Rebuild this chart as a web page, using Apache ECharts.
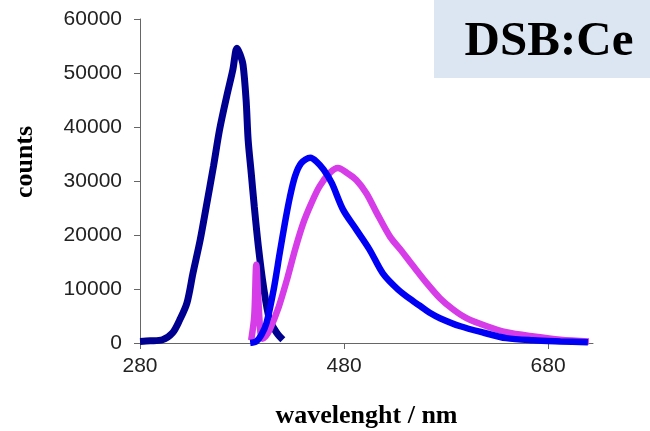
<!DOCTYPE html>
<html>
<head>
<meta charset="utf-8">
<script src="https://cdn.jsdelivr.net/npm/echarts@6/dist/echarts.min.js"></script>
<style>
html,body{margin:0;padding:0;background:#fff;}
#chart{width:650px;height:431px;}
</style>
</head>
<body>
<div id="chart"></div>
<script>
// excitation spectrum (navy)
const excWl = [280, 290, 302, 312, 319, 326, 332, 339, 345, 352, 358, 365, 371, 375, 378, 381, 384, 386, 389, 392, 396, 401, 407, 414, 420];
const excCounts = [300, 400, 600, 1900, 4300, 7400, 13000, 19100, 25300, 32700, 39500, 45700, 50600, 54600, 53500, 51500, 45000, 37600, 31500, 25300, 17900, 10500, 4300, 1900, 600];
// emission spectrum (magenta)
const emMWl = [389, 392, 394, 396, 398, 400, 403, 407, 416, 424, 432, 440, 448, 456, 466, 474, 483, 492, 502, 512, 525, 537, 548, 561, 574, 587, 600, 620, 639, 666, 692, 720];
const emMCounts = [500, 5000, 14500, 8000, 2000, 800, 1200, 2400, 6700, 11700, 17300, 22200, 25900, 29000, 31500, 32400, 31500, 30200, 27700, 24100, 19700, 16900, 14200, 11100, 8300, 6200, 4600, 3100, 2000, 1200, 600, 300];
// emission spectrum (blue)
const emBWl = [388, 394, 399, 404, 411, 417, 422, 427, 432, 438, 447, 453, 460, 468, 479, 492, 505, 518, 533, 548, 555, 564, 574, 594, 617, 639, 665, 692, 719];
const emBCounts = [0, 300, 1500, 3700, 9900, 16700, 22200, 27100, 30900, 33300, 34300, 33600, 32100, 29600, 24700, 21000, 17300, 12900, 9900, 7700, 6800, 5600, 4600, 3100, 1900, 900, 500, 300, 150];
const xTicks = [280, 480, 680];
const yTicks = [0, 10000, 20000, 30000, 40000, 50000, 60000];

function pairs(xs, ys) { return xs.map((x, i) => [x, ys[i]]); }

const chart = echarts.init(document.getElementById('chart'), null, {renderer: 'canvas'});
const axisColor = '#666';
chart.setOption({
  animation: false,
  backgroundColor: '#fff',
  grid: {left: 140, right: 57, top: 19, bottom: 88, containLabel: false, outerBoundsMode: 'none'},
  xAxis: {
    type: 'value', min: 280, max: 724,
    axisLine: {show: true, lineStyle: {color: axisColor, width: 1}},
    axisTick: {show: true, length: 6, inside: false, customValues: xTicks, lineStyle: {color: axisColor}},
    axisLabel: {customValues: xTicks, margin: 13, color: '#222', fontFamily: 'Liberation Sans, Arial, sans-serif', fontSize: 21,
      formatter: v => String(v)},
    splitLine: {show: false},
    name: 'wavelenght / nm', nameLocation: 'middle', nameGap: 60,
    nameTextStyle: {fontFamily: 'Liberation Serif, Times New Roman, serif', fontWeight: 'bold', fontSize: 26, color: '#000'}
  },
  yAxis: {
    type: 'value', min: 0, max: 60000, interval: 10000,
    axisLine: {show: true, lineStyle: {color: axisColor, width: 1}},
    axisTick: {show: true, length: 6, inside: false, customValues: yTicks, lineStyle: {color: axisColor}},
    axisLabel: {customValues: yTicks, margin: 18, color: '#222', fontFamily: 'Liberation Sans, Arial, sans-serif', fontSize: 21,
      formatter: v => String(v)},
    splitLine: {show: false}
  },
  series: [
    {type: 'line', data: pairs(excWl, excCounts), smooth: 0.3, showSymbol: false,
     lineStyle: {color: '#000090', width: 7}, itemStyle: {color: '#000090'}, z: 2},
    {type: 'line', data: pairs(emMWl, emMCounts), smooth: 0.3, showSymbol: false,
     lineStyle: {color: '#D63CE8', width: 6.5}, itemStyle: {color: '#D63CE8'}, z: 3},
    {type: 'line', data: pairs(emBWl, emBCounts), smooth: 0.3, showSymbol: false,
     lineStyle: {color: '#0000F5', width: 6.5}, itemStyle: {color: '#0000F5'}, z: 4}
  ],
  graphic: [
    {type: 'text', x: 25, y: 162, rotation: Math.PI / 2, z: 11,
     style: {text: 'counts', fill: '#000', font: 'bold 26px "Liberation Serif", "Times New Roman", serif', textAlign: 'center', textVerticalAlign: 'middle'}},
    {type: 'rect', left: 434, top: 0, shape: {width: 216, height: 78}, style: {fill: '#DCE6F2'}, z: 10},
    {type: 'text', x: 549, y: 67, z: 11,
     style: {text: 'DSB:Ce', fill: '#000', font: 'bold 49px "Liberation Serif", "Times New Roman", serif', textAlign: 'center', textVerticalAlign: 'bottom'}}
  ]
});
</script>
</body>
</html>
